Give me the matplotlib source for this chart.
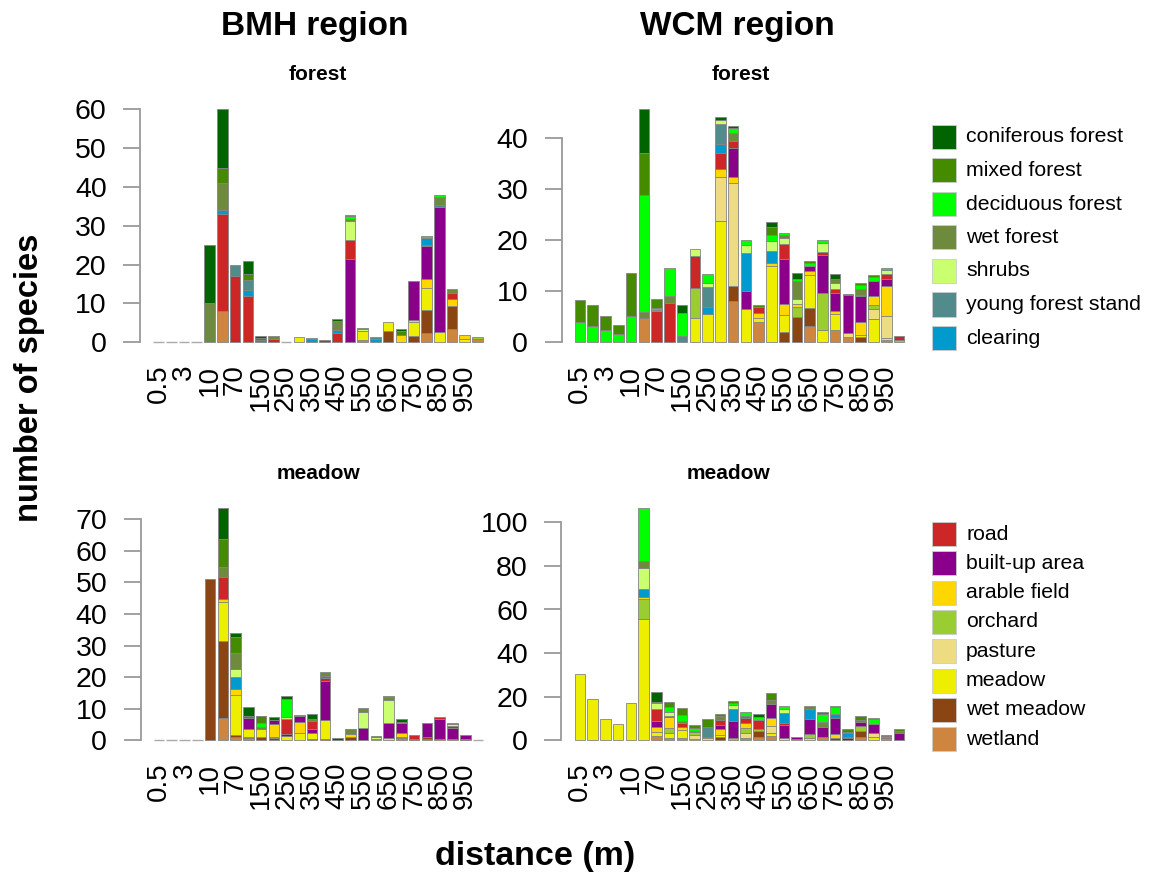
import numpy as np
import matplotlib
matplotlib.use("Agg")
import matplotlib.pyplot as plt
from matplotlib.patches import Rectangle

plt.rcParams['font.family'] = ['Liberation Sans', 'DejaVu Sans']

# distance classes (m)
distances = ["0.5", "1", "3", "5", "10", "50", "70", "100", "150", "200", "250", "300", "350",
             "400", "450", "500", "550", "600", "650", "700", "750", "800", "850", "900", "950", "1000"]

# stacking order, bottom to top
habitats = ["wetland", "wet meadow", "meadow", "pasture", "orchard", "arable field",
            "built-up area", "road", "clearing", "young forest stand", "shrubs",
            "wet forest", "deciduous forest", "mixed forest", "coniferous forest"]

colors = {
    "coniferous forest": "#006400",
    "mixed forest": "#458B00",
    "deciduous forest": "#00FF00",
    "wet forest": "#6E8B3D",
    "shrubs": "#CAFF70",
    "young forest stand": "#528B8B",
    "clearing": "#009ACD",
    "road": "#CD2626",
    "built-up area": "#8B008B",
    "arable field": "#FFD700",
    "orchard": "#9ACD32",
    "pasture": "#EEDC82",
    "meadow": "#EEEE00",
    "wet meadow": "#8B4513",
    "wetland": "#CD853F",
}

bmh_forest = {
    "wetland":            [0,0,0,0,0, 8,0,0,0,0, 0,0,0,0,0, 0,0.6,0,0,0, 0,2.3,0,3.3,0, 0.9],
    "wet meadow":         [0,0,0,0,0, 0,0,0,0,0, 0,0,0,0,0, 0,0,0,3,0, 1.6,6,0,6.1,0, 0],
    "meadow":             [0,0,0,0,0, 0,0,0,0,0, 0,1.3,0,0,0, 0,2.4,0,2.3,0, 3.6,5.6,2.6,0,0.9, 0],
    "orchard":            [0,0,0,0,0, 0,0,0,0,0, 0,0,0,0,0, 0,0,0,0,0, 0,0,0,0,0, 0.4],
    "arable field":       [0,0,0,0,0, 0,0,0,0,0, 0,0,0,0,0, 0,0,0,0,1.9, 0.6,2.4,0,1.8,0.9, 0],
    "built-up area":      [0,0,0,0,0, 0,0,0,0,0, 0,0,0,0,0, 21.4,0,0,0,0, 10.1,8.6,32.3,0,0, 0],
    "road":               [0,0,0,0,0, 25,17,12,0,0.9, 0,0,0,0.5,2.3, 5,0,0,0,0, 0,0.2,0,1.4,0, 0],
    "clearing":           [0,0,0,0,0, 1,0,1.5,0.5,0, 0,0,0.8,0,0.8, 0,0,0.9,0,0, 0,1.7,0,0,0, 0],
    "young forest stand": [0,0,0,0,0, 0,3,2.5,0,0, 0,0,0.3,0,0, 0,0,0.4,0,0, 0,0,0.5,0,0, 0],
    "shrubs":             [0,0,0,0,0, 0,0,0,0,0, 0,0,0,0,0, 4.9,0.3,0,0,0, 0,0,0,0,0, 0],
    "wet forest":         [0,0,0,0,10, 7,0,0,0,0.7, 0,0,0,0,2.5, 0.4,0,0,0,0, 0,0,1.9,1.0,0, 0],
    "deciduous forest":   [0,0,0,0,0, 0,0,0,0,0, 0,0,0,0,0, 0.7,0.2,0,0,0, 0,0.7,0.7,0,0, 0],
    "mixed forest":       [0,0,0,0,0, 4,0,1.5,0.5,0, 0,0,0,0,0, 0.3,0.2,0,0,1.1, 0,0,0,0,0, 0],
    "coniferous forest":  [0,0,0,0,15, 15,0,3.5,0.6,0, 0,0,0,0,0.3, 0,0,0,0,0.4, 0,0,0,0,0, 0],
}

wcm_forest = {
    "wetland":            [0,0,0,0,0, 4.8,0,0,0,0, 0,0,8,0,3.9, 0,0,0,3.1,0, 2.5,1,0,0,0.5, 0],
    "wet meadow":         [0,0,0,0,0, 0,0,0,0,0, 0,0,3,0,0, 0,2,5,3.7,0, 0,0,1.1,0,0, 0],
    "meadow":             [0,0,0,0,0, 0,0,0,0,4.7, 5.6,23.7,0,6.5,0.8, 15,3.4,0,6.4,2.4, 3,0,0.3,4.5,0.3, 0],
    "pasture":            [0,0,0,0,0, 0,0,0,0,0, 0,8.7,20.2,0,0, 0,0,0,0,0, 0,0.9,0,2,4.4, 0],
    "orchard":            [0,0,0,0,0, 0,0,0,0,5.9, 0,0,0,0,0, 0,0,2,0,7.3, 0,0,0,0.8,0, 0.4],
    "arable field":       [0,0,0,0,0, 0,0,0,0,0, 0,1.5,1.3,0,1, 0.5,2.2,0.6,0.8,0, 0.6,0,2.5,1.7,5.8, 0],
    "built-up area":      [0,0,0,0,0, 0,0,0,0,0, 0,0,5.5,3.6,0, 0,8.7,0,1,7.4, 3.5,7.3,5.1,3.1,1.4, 0],
    "road":               [0,0,0,0,0, 0,6.1,7.8,0,6.3, 0,3.2,1.5,0,1.3, 0,3,0,0,0.6, 0.8,0,0,0,0.9, 0.8],
    "clearing":           [0,0,0,0,0, 0,0,0,0,0, 1.4,1.8,0,7.5,0, 2.4,0,0,0,0, 0,0,0.3,0,0, 0],
    "young forest stand": [0,0,0,0,0, 0,0,0,1.2,0, 3.8,4,0,0,0, 0,0,0,0,0, 0,0,0,0,0, 0],
    "shrubs":             [0,0,0,0,0, 0,0.2,0,0,1.3, 0.8,0.7,0,1.5,0, 2,1.1,0.9,0,1.7, 1.3,0,0,0,0.9, 0],
    "wet forest":         [0,0,0,0,0, 1.2,0,1.2,0,0, 0,0,1.5,0,0, 0,0.6,3.5,0,0, 0.8,0,1.1,0,0, 0],
    "deciduous forest":   [3.9,3.1,2.5,1.6,5.2, 22.9,0.5,5.5,4.5,0, 1.7,0,1,0.9,0, 1.1,0.4,0.5,0.6,0.7, 0,0,0.8,0.8,0.4, 0],
    "mixed forest":       [4.4,4.2,2.7,1.7,8.4, 8.3,1.6,0,0,0, 0,0,0,0,0.3, 1.7,0,0,0.3,0, 0,0,0.4,0.2,0, 0],
    "coniferous forest":  [0,0,0,0,0, 8.5,0,0,1.6,0, 0,0.6,0.4,0,0, 0.8,0,1.1,0,0, 0.8,0.3,0,0,0, 0],
}

bmh_meadow = {
    "wetland":            [0,0,0,0,0, 7.2,1.2,0.6,0,0, 0,0,0,0,0, 0,0,0,0,0.6, 0,0.5,0,0,0, 0],
    "wet meadow":         [0,0,0,0,51, 24.1,0.6,0.4,1,0.6, 0,0,0.3,0.5,0, 1,0,0,0,0.6, 0.3,0.4,0,0,0.5, 0],
    "meadow":             [0,0,0,0,0, 12.6,12.5,2.6,2.5,0.5, 1.5,2.2,1.9,5.9,0, 0,0,0.3,0.6,0, 0,0,0.4,0.3,0, 0],
    "arable field":       [0,0,0,0,0, 1,1.9,0,0,4.1, 0,3.7,0,0,0, 1,0,0,0,1.2, 0,0,0,0,0, 0],
    "built-up area":      [0,0,0,0,0, 0,0,3.6,0,1.2, 0.5,1.8,1.5,12.5,0, 0,4,0,5,3, 0,4.7,6.3,3.7,1.1, 0],
    "road":               [0,0,0,0,0, 6.7,0,0,0,0, 4.6,0,2.5,0.9,0, 0,0,0,0,0, 1.3,0,0.8,0.4,0, 0],
    "clearing":           [0,0,0,0,0, 0,3.8,0,0,0, 0,0,0,0.5,0, 0,0,0,0,0, 0,0,0,0,0, 0],
    "shrubs":             [0,0,0,0,0, 0,2.5,0,0,0, 0.8,0,0,0,0, 0,5.1,0.7,7.2,0, 0,0,0,0.9,0, 0],
    "wet forest":         [0,0,0,0,0, 3.4,5.3,0,0.7,0, 0,0.2,0.4,1.2,0, 1.5,1,0,0.8,0, 0,0,0,0.3,0, 0],
    "deciduous forest":   [0,0,0,0,0, 0,0,0,1.4,0, 5.6,0,0,0,0, 0,0,0,0,0, 0,0,0,0,0, 0],
    "mixed forest":       [0,0,0,0,0, 8.8,5,0.5,2,0, 0,0,0,0,0, 0,0,0,0.4,0.3, 0,0,0,0,0, 0],
    "coniferous forest":  [0,0,0,0,0, 9.9,1.1,3,0.2,1.1, 0.9,0,1.7,0,0.6, 0.2,0,0.4,0,1, 0,0,0,0,0, 0],
}

wcm_meadow = {
    "wetland":            [0,0,0,0,0, 0,2.1,0.9,0.9,0, 0,0,0,0.9,1.4, 2.1,0,0,0,1.4, 0,0,1.7,0,0.9, 0],
    "wet meadow":         [0,0,0,0,0, 0,0,0,0,0, 0,1.7,0,0,3, 0,0,0,0,0, 0.9,0,2.7,0,0.5, 0],
    "meadow":             [30.3,19,9.6,7.5,17, 55.5,1.6,2.3,3.8,0.5, 0.9,0.7,0,0,0, 1.1,0.9,0.6,0.9,0, 0,0,0,1.4,0, 0],
    "pasture":            [0,0,0,0,0, 0,0,0,0,1.9, 0,0,0,2.3,0, 3.5,0,0,0,0, 0,0,0,2.1,0, 0],
    "orchard":            [0,0,0,0,0, 9.2,0,2.3,0,1.3, 0,0,0.9,2.3,0.9, 0,0,0,1.9,0, 0,0,2.2,0,0, 0],
    "arable field":       [0,0,0,0,0, 0.9,2.6,5.4,1.6,0, 0.8,2.8,0,2.3,0, 3.7,0,0,0,0, 1.9,0,0,0,0.5, 0],
    "built-up area":      [0,0,0,0,0, 0,2.7,0.4,0,0, 0,1.8,8,0,0, 6.1,6.1,0.8,6.8,4.5, 7.3,1,1.7,4,0, 3.5],
    "road":               [0,0,0,0,0, 0,5.2,0,1.8,0, 0,2.3,0,2.4,4, 0,1.1,0,0,0, 0,0.4,0,0,0.7, 0],
    "clearing":           [0,0,0,0,0, 3.8,0,0,0,0, 0,0,5.5,0.8,0, 0,4.3,0,4.6,0, 2,1.8,0,0,0, 0],
    "young forest stand": [0,0,0,0,0, 0,0,0,0,0, 4.6,0,0,0,0, 0,0,0,0,0, 0,0.8,0,0,0, 0],
    "shrubs":             [0,0,0,0,0, 9.8,2.8,1.5,0,0, 0,0,1.8,0,0, 0,2,0,0,0, 0,0,0,0,0, 0],
    "wet forest":         [0,0,0,0,0, 2.9,0,0,0.9,0.4, 0,1.9,0,0,0, 2,0,0,1.5,2.5, 0,0,1,0,0, 0.8],
    "deciduous forest":   [0,0,0,0,0, 24.5,0.7,2.7,2.6,1.4, 0,0,0.8,2.1,1.6, 0,1.3,0,0,3.7, 3,0,0,2.3,0, 0],
    "mixed forest":       [0,0,0,0,0, 0,0,1.9,3.1,1.4, 3.3,1,0.8,0,0, 3.1,0,0,0,1.1, 0.6,1,1.9,0.6,0, 0.7],
    "coniferous forest":  [0,0,0,0,0, 0,4.6,0,0,0, 0,0,0,0,1, 0,0,0,0,0, 0,0,0,0,0, 0],
}

W, H = 1157, 872
fig = plt.figure(figsize=(W / 100, H / 100), dpi=100)

SPACING = 12.76   # px between bar centres
XLEFT = -1.45
XRIGHT = 25.6
AXCOL = "#9a9a9a"
EDGE = "#858585"


def panel(data, left_px, zero_px, unit_px, ytop, yticks):
    w_px = (XRIGHT - XLEFT) * SPACING
    h_px = ytop * unit_px
    ax = fig.add_axes([left_px / W, (H - zero_px) / H, w_px / W, h_px / H])
    x = np.arange(len(distances))
    bottom = np.zeros(len(distances))
    for hab in habitats:
        vals = np.array(data.get(hab, [0] * len(distances)), dtype=float)
        m = vals > 0
        if m.any():
            ax.bar(x[m], vals[m], bottom=bottom[m], width=0.83, color=colors[hab],
                   edgecolor=EDGE, linewidth=0.6, clip_on=False)
        bottom += vals
    empty = bottom == 0
    ax.bar(x[empty], np.zeros(empty.sum()), width=0.83, color="none",
           edgecolor="#aaaaaa", linewidth=1.0, clip_on=False)
    ax.set_xlim(XLEFT, XRIGHT)
    ax.set_ylim(0, ytop)
    for s in ["top", "right", "bottom"]:
        ax.spines[s].set_visible(False)
    ax.spines["left"].set_bounds(yticks[0], yticks[-1])
    ax.spines["left"].set_color(AXCOL)
    ax.spines["left"].set_linewidth(1.3)
    ax.set_yticks(yticks)
    ax.tick_params(axis="y", length=12, width=1.3, color=AXCOL, pad=12, labelsize=20.5)
    ax.set_xticks(x[::2])
    ax.set_xticklabels(distances[::2], rotation=90)
    ax.tick_params(axis="x", length=0, pad=16, labelsize=20)
    ax.patch.set_alpha(0)
    return ax


panel(bmh_forest, 140, 342.3, 3.883, 61, list(range(0, 61, 10)))
panel(wcm_forest, 561.5, 342.3, 5.10, 46.5, list(range(0, 41, 10)))
panel(bmh_meadow, 140.5, 740.3, 3.157, 75, list(range(0, 71, 10)))
panel(wcm_meadow, 561.3, 740.3, 2.18, 108, list(range(0, 101, 20)))


def ftext(xp, yp, s, **kw):
    fig.text(xp / W, 1 - yp / H, s, ha="center", va="center", **kw)


ftext(315, 27, "BMH region", fontsize=24, fontweight="bold")
ftext(737, 27, "WCM region", fontsize=24, fontweight="bold")
ftext(318, 75, "forest", fontsize=15, fontweight="bold")
ftext(741, 75, "forest", fontsize=15, fontweight="bold")
ftext(318, 473, "meadow", fontsize=15, fontweight="bold")
ftext(728, 473, "meadow", fontsize=15, fontweight="bold")
ftext(30, 378, "number of species", fontsize=23.5, fontweight="bold", rotation=90)
ftext(535, 856, "distance (m)", fontsize=24.5, fontweight="bold")

# legends
legend_forest = ["coniferous forest", "mixed forest", "deciduous forest", "wet forest",
                 "shrubs", "young forest stand", "clearing"]
legend_open = ["road", "built-up area", "arable field", "orchard", "pasture",
               "meadow", "wet meadow", "wetland"]


def legend(labels, y0, step):
    for i, lab in enumerate(labels):
        yc = y0 + i * step
        fig.add_artist(Rectangle((932 / W, 1 - (yc + 12) / H), 24 / W, 24 / H,
                                 transform=fig.transFigure, facecolor=colors[lab],
                                 edgecolor="#cccccc", linewidth=0.6))
        fig.text(966 / W, 1 - yc / H, lab, ha="left", va="center", fontsize=15.3)


legend(legend_forest, 137, 33.5)
legend(legend_open, 534, 29.3)

fig.savefig("out.png", dpi=100)
